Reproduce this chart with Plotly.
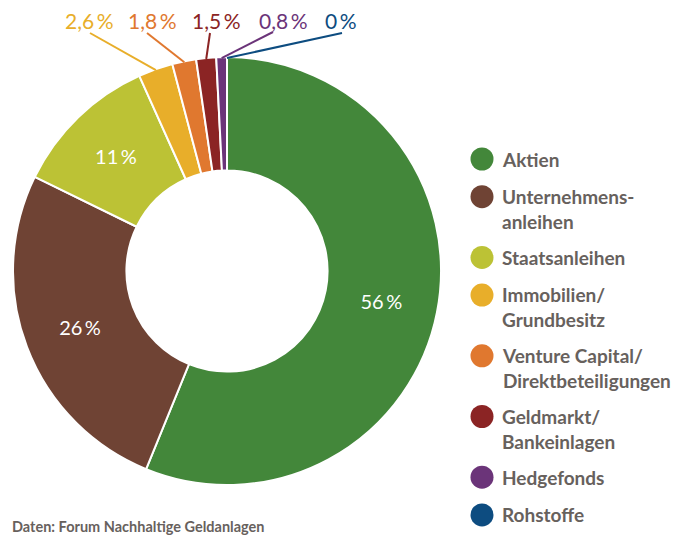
import math
import plotly.graph_objects as go

# ---- data ----
categories = ["Aktien", "Unternehmensanleihen", "Staatsanleihen", "Immobilien/Grundbesitz",
              "Venture Capital/Direktbeteiligungen", "Geldmarkt/Bankeinlagen", "Hedgefonds", "Rohstoffe"]
legend_labels = ["Aktien", "Unternehmens-<br>anleihen", "Staatsanleihen", "Immobilien/<br>Grundbesitz",
                 "Venture Capital/<br>Direktbeteiligungen", "Geldmarkt/<br>Bankeinlagen", "Hedgefonds", "Rohstoffe"]
shares = [56, 26, 11, 2.6, 1.8, 1.5, 0.8, 0]
pct_labels = ["56\u2009%", "26\u2009%", "11\u2009%", "2,6\u2009%", "1,8\u2009%", "1,5\u2009%", "0,8\u2009%", "0\u2009%"]
colors = ["#43873a", "#6f4334", "#bcc235", "#e8ae2a", "#e0782f", "#8b2424", "#6b3479", "#0d4c80"]
source_text = "Daten: Forum Nachhaltige Geldanlagen"

# ---- layout / style ----
OFF = 8                      # page body margin of the browser
W, H = 690 - OFF, 535 - OFF
CX, CY, R = 227, 271, 214    # page pixel coordinates
HOLE = 0.47
FONT = "Lato"
TEXT_GREY = "#67615d"
INSIDE_IDX = [0, 1, 2]
OUTSIDE_IDX = [3, 4, 5, 6, 7]
out_text_x = [89, 152, 216, 283, 341]
out_text_y = 21
out_line_start = [(90, 33), (147, 33), (210, 33), (273, 32), (342, 33)]


def px(x):
    return (x - OFF) / W


def py(y):
    return 1 - (y - OFF) / H


total = sum(shares)

fig = go.Figure()
fig.add_trace(go.Pie(
    labels=categories,
    values=shares,
    text=[pct_labels[i] if i in INSIDE_IDX else "" for i in range(len(shares))],
    textinfo="text",
    textposition="inside",
    insidetextorientation="horizontal",
    textfont=dict(family=FONT, size=20, color="white"),
    marker=dict(colors=colors, line=dict(color="white", width=2)),
    hole=HOLE,
    sort=False,
    direction="clockwise",
    rotation=0,
    showlegend=False,
    hoverinfo="label+percent",
    domain=dict(x=[px(CX - R), px(CX + R)], y=[py(CY + R), py(CY - R)]),
))

shapes = []
annotations = []

# outside labels with leader lines (tips derived from the data)
cum = [sum(shares[:i]) for i in range(len(shares))]
for k, i in enumerate(OUTSIDE_IDX):
    theta = 2 * math.pi * (cum[i] + shares[i] / 2) / total
    tx = CX + (R - 1) * math.sin(theta)
    ty = CY - (R - 1) * math.cos(theta)
    sx, sy = out_line_start[k]
    shapes.append(dict(type="line", xref="paper", yref="paper",
                       x0=px(sx), y0=py(sy), x1=px(tx), y1=py(ty),
                       line=dict(color=colors[i], width=2)))
    annotations.append(dict(x=px(out_text_x[k]), y=py(out_text_y), xref="paper", yref="paper",
                            text=pct_labels[i], showarrow=False, xanchor="center", yanchor="middle",
                            font=dict(family=FONT, size=21, color=colors[i])))

# legend (circles + text)
LX_C, LX_T, LR = 482, 500, 11.5
LEG_SIZE = 19
ly = 159
for i, lab in enumerate(legend_labels):
    nlines = lab.count("<br>") + 1
    shapes.append(dict(type="circle", xref="paper", yref="paper",
                       x0=px(LX_C - LR), x1=px(LX_C + LR), y0=py(ly + LR), y1=py(ly - LR),
                       fillcolor=colors[i], line=dict(width=0)))
    annotations.append(dict(x=px(LX_T), y=py(ly + 0.65 * LEG_SIZE * (nlines - 1)), xref="paper", yref="paper",
                            text=lab, showarrow=False, xanchor="left", yanchor="middle", align="left",
                            font=dict(family=FONT, size=LEG_SIZE, color=TEXT_GREY, weight=700)))
    ly += 37.7 + 23 * (nlines - 1)

annotations.append(dict(x=px(10), y=py(526), xref="paper", yref="paper", text=source_text,
                        showarrow=False, xanchor="left", yanchor="middle",
                        font=dict(family=FONT, size=14.5, color=TEXT_GREY, weight=700)))

fig.update_layout(
    width=W, height=H,
    margin=dict(l=0, r=0, t=0, b=0),
    paper_bgcolor="white", plot_bgcolor="white",
    shapes=shapes, annotations=annotations,
    showlegend=False,
)

fig.write_html("out.html")
